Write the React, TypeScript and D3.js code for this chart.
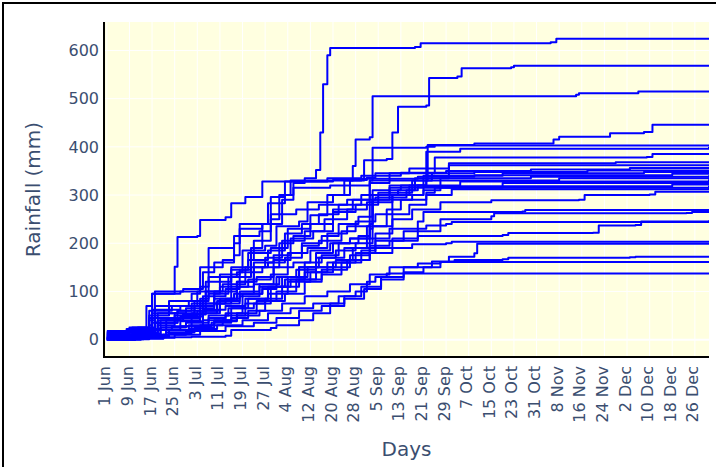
import React from "react";
import * as d3 from "d3";

// ---- data (day index 0 = 1 Jun, 213 = 31 Dec; cumulative rainfall mm) ----
const tickLabels = [
  "1 Jun", "9 Jun", "17 Jun", "25 Jun", "3 Jul", "11 Jul", "19 Jul", "27 Jul",
  "4 Aug", "12 Aug", "20 Aug", "28 Aug", "5 Sep", "13 Sep", "21 Sep", "29 Sep",
  "7 Oct", "15 Oct", "23 Oct", "31 Oct", "8 Nov", "16 Nov", "24 Nov", "2 Dec",
  "10 Dec", "18 Dec", "26 Dec",
];
const tickDays = [0, 8, 16, 24, 32, 40, 48, 56, 64, 72, 80, 88, 96, 104, 112, 120, 128, 136, 144, 152, 160, 168, 176, 184, 192, 200, 208];
const yTicks = [0, 100, 200, 300, 400, 500, 600];

type P = [number, number];

const s624: P[] = [[0,4],[7,10],[14,18],[15,45],[24,55],[31,70],[32,100],[40,110],[44,150],[50,165],[52,205],[58,240],[62,290],[66,325],[70,335],[74,352],[75.5,430],[76.5,530],[78,590],[79,605],[109,607],[111,615],[157,617],[159,624],[213,624]];
const s568: P[] = [[0,2],[9,8],[15,30],[16,62],[26,70],[33,85],[36,130],[46,140],[48,185],[56,195],[60,235],[68,245],[71,285],[80,300],[86,330],[91,372],[99,375],[101,430],[103,483],[113,486],[114,543],[124,546],[125.5,563],[143,565],[144,568],[213,568]];
const s516: P[] = [[0,10],[6,15],[13,22],[19,40],[27,52],[34,90],[42,105],[47,140],[55,150],[61,200],[66,215],[72,258],[78,300],[84,330],[87,360],[88,415],[93,420],[94,505],[166,508],[167,511],[188,515],[213,516]];
const s448: P[] = [[0,0],[10,5],[17,35],[25,60],[30,70],[38,95],[43,130],[51,165],[57,185],[63,220],[69,240],[75,260],[82,280],[90,300],[100,320],[112,330],[113.5,404],[130,407],[158,415],[160,421],[178,428],[190,431],[193,446],[213,448]];
const s404: P[] = [[0,6],[12,15],[18,55],[28,65],[35,120],[44,145],[50,180],[58,190],[64,230],[72,240],[80,270],[87,290],[93,330],[94,398],[113,400],[116,403],[213,404]];
const s400: P[] = [[0,12],[8,20],[15,50],[22,80],[30,95],[33,150],[41,165],[45,215],[54,225],[58,260],[67,270],[75,280],[85,290],[95,295],[106,310],[110,320],[113,390],[125,396],[213,400]];
const s385: P[] = [[0,3],[12,10],[21,40],[30,55],[39,80],[46,120],[52,160],[59,175],[65,210],[73,225],[80,265],[88,280],[96,305],[108,330],[115,345],[116,378],[191,379],[193,385],[213,385]];
const s369: P[] = [[0,15],[9,25],[17,70],[29,80],[35,100],[41,115],[49,150],[56,170],[62,205],[70,225],[77,250],[85,270],[92,285],[101,300],[112,310],[118,335],[121,366],[180,368],[213,369]];
const s364: P[] = [[0,5],[13,12],[16,95],[26,100],[33,110],[36,190],[45,200],[47,240],[58,250],[61,300],[66,315],[79,320],[93,325],[100,345],[107,355],[121,362],[213,364]];
const s357: P[] = [[0,18],[8,25],[14,70],[16,95],[24,151],[25,213],[32,215],[33,248],[42,254],[44,283],[49,296],[55,328],[78,335],[90,340],[104,346],[120,350],[150,353],[185,356],[213,357]];
const s352: P[] = [[0,8],[10,14],[18,30],[24,45],[31,80],[36,95],[40,135],[47,145],[51,190],[55,240],[58,296],[63,328],[80,331],[92,336],[95,345],[130,348],[170,351],[213,352]];
const s349: P[] = [[0,2],[11,8],[16,20],[23,28],[30,40],[33,75],[42,85],[46,120],[53,130],[59,165],[65,180],[69,200],[76,215],[82,240],[89,255],[93,330],[112,340],[140,345],[190,348],[213,349]];
const s345: P[] = [[0,14],[7,22],[15,40],[17,100],[27,105],[34,140],[38,160],[45,175],[47,230],[55,240],[57,283],[63,300],[65,330],[90,334],[110,338],[130,341],[200,344],[213,345]];
const s341: P[] = [[0,0],[12,3],[20,10],[28,18],[33,30],[41,40],[44,65],[52,75],[58,110],[65,125],[70,160],[76,175],[82,200],[89,215],[93,240],[94,300],[103,310],[109,335],[150,338],[213,341]];
const s337: P[] = [[0,9],[14,20],[16,55],[25,60],[35,70],[38,100],[46,110],[52,150],[57,160],[63,170],[69,195],[75,205],[83,225],[88,245],[95,260],[101,300],[107,320],[113,330],[160,335],[213,337]];
const s333: P[] = [[0,4],[9,12],[19,25],[26,38],[34,60],[39,75],[44,110],[50,125],[58,135],[64,180],[71,190],[78,220],[85,235],[93,255],[94,310],[104,320],[125,328],[213,333]];
const s329: P[] = [[0,16],[11,25],[15,60],[23,70],[30,75],[40,85],[47,100],[54,110],[62,130],[68,150],[74,180],[80,200],[86,210],[93,240],[94,290],[100,315],[140,325],[213,329]];
const s325: P[] = [[0,1],[13,5],[21,15],[29,22],[36,45],[42,55],[48,95],[55,105],[60,130],[67,145],[74,170],[81,185],[88,200],[93,230],[94,290],[108,300],[112,318],[200,322],[213,325]];
const s320: P[] = [[0,7],[10,15],[17,45],[27,52],[35,65],[38,85],[45,95],[52,115],[59,150],[66,160],[72,185],[79,200],[86,210],[92,235],[99,270],[104,290],[113,305],[116,315],[213,320]];
const s316: P[] = [[0,3],[14,10],[22,20],[30,28],[37,35],[44,45],[50,60],[56,80],[63,95],[70,120],[76,135],[83,160],[90,185],[95,220],[101,260],[107,280],[113,300],[122,312],[213,316]];
const s307: P[] = [[0,0],[10,4],[17,20],[26,28],[34,40],[42,50],[49,75],[56,85],[62,110],[68,125],[74,150],[81,165],[87,190],[93,200],[94,235],[101,250],[108,270],[118,285],[136,289],[167,290],[169,300],[192,301],[194,307],[213,307]];
const s269: P[] = [[0,11],[9,18],[17,35],[25,45],[33,55],[40,75],[47,90],[54,115],[61,130],[68,150],[75,170],[84,190],[92,210],[100,230],[110,245],[112,265],[147,266],[148,269],[213,269]];
const s265: P[] = [[0,6],[12,10],[19,25],[28,35],[36,50],[43,65],[50,85],[57,95],[64,120],[72,140],[80,160],[88,180],[95,205],[105,225],[118,250],[136,256],[137,262],[205,263],[207,265],[213,265]];
const s247: P[] = [[0,2],[14,6],[22,15],[31,25],[38,40],[46,55],[53,80],[60,100],[67,125],[76,145],[85,165],[93,190],[101,210],[110,230],[113,237],[120,240],[122,244],[213,247]];
const s246: P[] = [[0,9],[11,14],[18,40],[26,48],[34,62],[42,70],[49,85],[57,110],[64,130],[71,150],[78,160],[86,175],[93,195],[100,205],[110,215],[140,217],[142,221],[172,222],[174,237],[187,238],[189,245],[213,246]];
const s203: P[] = [[0,13],[8,20],[16,35],[24,50],[32,60],[40,80],[47,95],[55,110],[63,125],[70,140],[78,150],[86,165],[93,180],[101,190],[108,198],[120,200],[122,203],[213,203]];
const s201: P[] = [[0,3],[12,8],[21,20],[29,30],[38,38],[46,50],[54,60],[62,75],[70,90],[78,100],[86,115],[93,135],[100,150],[110,158],[118,161],[121,172],[130,179],[131,199],[213,201]];
const s172: P[] = [[0,5],[13,9],[22,14],[30,22],[39,30],[48,40],[57,55],[65,65],[73,75],[82,90],[90,110],[97,130],[105,150],[115,162],[123,165],[140,167],[142,170],[185,171],[187,172],[213,172]];
const s161: P[] = [[0,1],[15,4],[24,10],[33,18],[42,28],[52,35],[60,45],[68,60],[76,70],[84,85],[91,105],[97,125],[105,140],[112,150],[118,161],[213,161]];
const s137: P[] = [[0,0],[10,2],[20,5],[30,6],[42,8],[44,20],[58,24],[60,30],[68,40],[73,55],[79,75],[84,90],[88,100],[92,120],[95,130],[99,137],[213,137]];

const seriesList: P[][] = [
  s624, s568, s516, s448, s404, s400, s385, s369, s364, s357, s352, s349, s345,
  s341, s337, s333, s329, s325, s320, s316, s307, s269, s265, s247, s246, s203,
  s201, s172, s161, s137,
];

// ---- layout ----
const W = 716;
const H = 467;
const L = 104, R = 709, T = 22, B = 357;
const FONT = "'DejaVu Sans', Verdana, sans-serif";
const TXT = "#3b4e70";

export default function App() {
  const x = d3.scaleLinear().domain([-1, 213]).range([L, R]);
  const y = d3.scaleLinear().domain([-36, 659]).range([B, T]);
  const line = d3
    .line<P>()
    .x((d) => x(d[0]))
    .y((d) => y(d[1]))
    .curve(d3.curveStepAfter);

  return (
    <svg
      width={W}
      height={H}
      style={{ position: "absolute", left: 0, top: 0, background: "#fff" }}
    >
      <rect x={3} y={3} width={800} height={800} fill="#fff" stroke="#000" strokeWidth={2} />
      <rect x={L} y={T} width={R - L} height={B - T} fill="#ffffe0" />
      {tickDays.map((d) => (
        <line key={"gx" + d} x1={x(d)} x2={x(d)} y1={T} y2={B} stroke="#fff" strokeWidth={1} />
      ))}
      {yTicks.map((v) => (
        <line key={"gy" + v} x1={L} x2={R} y1={y(v)} y2={y(v)} stroke="#fff" strokeWidth={v === 0 ? 2 : 1} />
      ))}
      <defs>
        <clipPath id="clip">
          <rect x={L} y={T} width={R - L} height={B - T} />
        </clipPath>
      </defs>
      <g clipPath="url(#clip)">
        {seriesList.map((s, i) => (
          <path
            key={i}
            d={line(s) || ""}
            fill="none"
            stroke="#0000ff"
            strokeWidth={2}
            strokeLinejoin="round"
          />
        ))}
      </g>
      <line x1={L} x2={L} y1={T} y2={B + 1} stroke="#000" strokeWidth={2} />
      <line x1={L - 1} x2={R} y1={B} y2={B} stroke="#000" strokeWidth={2} />
      {yTicks.map((v) => (
        <text
          key={"ty" + v}
          x={99}
          y={y(v)}
          dy="0.36em"
          textAnchor="end"
          fontFamily={FONT}
          fontSize={16}
          fill={TXT}
        >
          {v}
        </text>
      ))}
      {tickDays.map((d, i) => (
        <text
          key={"tx" + d}
          transform={`translate(${x(d)},366) rotate(-90)`}
          dy="0.22em"
          textAnchor="end"
          fontFamily={FONT}
          fontSize={16}
          fill={TXT}
        >
          {tickLabels[i]}
        </text>
      ))}
      <text
        x={(L + R) / 2}
        y={456}
        textAnchor="middle"
        fontFamily={FONT}
        fontSize={20}
        fill={TXT}
      >
        Days
      </text>
      <text
        transform={`translate(39.5,${(T + B) / 2}) rotate(-90)`}
        textAnchor="middle"
        fontFamily={FONT}
        fontSize={20}
        fill={TXT}
      >
        Rainfall (mm)
      </text>
    </svg>
  );
}
